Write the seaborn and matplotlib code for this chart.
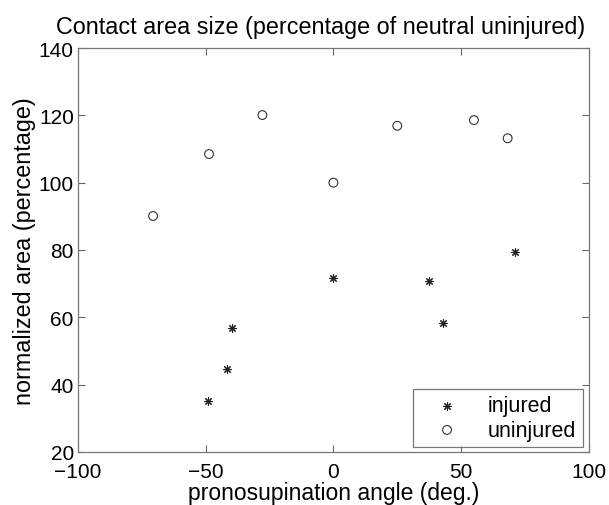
import matplotlib
matplotlib.use("Agg")
import matplotlib.pyplot as plt
import seaborn as sns
import pandas as pd

# Pronosupination angle (deg.) and normalized contact area (%)
injured_angle = [-49, -41.6, -39.7, 0, 37.3, 43, 71]
injured_area = [35.1, 44.6, 56.8, 71.6, 70.9, 58.2, 79.5]
uninjured_angle = [-70.6, -48.7, -27.8, 0, 25, 55, 68.2]
uninjured_area = [90.1, 108.5, 120.1, 100, 116.9, 118.6, 113.2]

xticks = [-100, -50, 0, 50, 100]
yticks = [20, 40, 60, 80, 100, 120, 140]

sns.set_theme(style="white")
plt.rcParams["font.family"] = ["Liberation Sans", "DejaVu Sans"]
plt.rcParams["text.color"] = "black"
plt.rcParams["axes.labelcolor"] = "black"

df_inj = pd.DataFrame({"angle": injured_angle, "area": injured_area})
df_un = pd.DataFrame({"angle": uninjured_angle, "area": uninjured_area})

fig = plt.figure(figsize=(6.09, 5.06), dpi=100)
ax = fig.add_axes([0.128, 0.105, 0.839, 0.798])

sns.scatterplot(data=df_inj, x="angle", y="area", ax=ax, marker=(8, 2, 0),
                s=30, color="#222222", edgecolor="#222222", linewidth=0.8,
                label="injured")
sns.scatterplot(data=df_un, x="angle", y="area", ax=ax, marker="o",
                s=40, facecolor="none", edgecolor="#333333", linewidth=0.8,
                label="uninjured")

ax.set_xlim(-100, 100)
ax.set_ylim(20, 140)
ax.set_xticks(xticks)
ax.set_yticks(yticks)
ax.tick_params(axis="both", direction="in", length=5, width=0.8,
               color="#666666", labelcolor="black", labelsize=15,
               top=True, right=True, bottom=True, left=True)
ax.tick_params(axis="y", pad=3)
ax.tick_params(axis="x", pad=7)
for sp in ax.spines.values():
    sp.set_color("#777777")
    sp.set_linewidth(0.9)

ax.set_xlabel("pronosupination angle (deg.)", fontsize=16.5, labelpad=0)
ax.set_ylabel("normalized area (percentage)", fontsize=16.8, labelpad=2)
ax.set_title("Contact area size (percentage of neutral uninjured)",
             fontsize=16.8, pad=11, x=0.475)

leg = ax.legend(loc="lower right", fontsize=15.5, frameon=True, fancybox=False,
                edgecolor="#555555", handletextpad=0.6, borderpad=0.3,
                labelspacing=0.15, handlelength=2.6, borderaxespad=0,
                bbox_to_anchor=(0.988, 0.012))
leg.get_frame().set_linewidth(0.9)

fig.savefig("out.png", dpi=100)
